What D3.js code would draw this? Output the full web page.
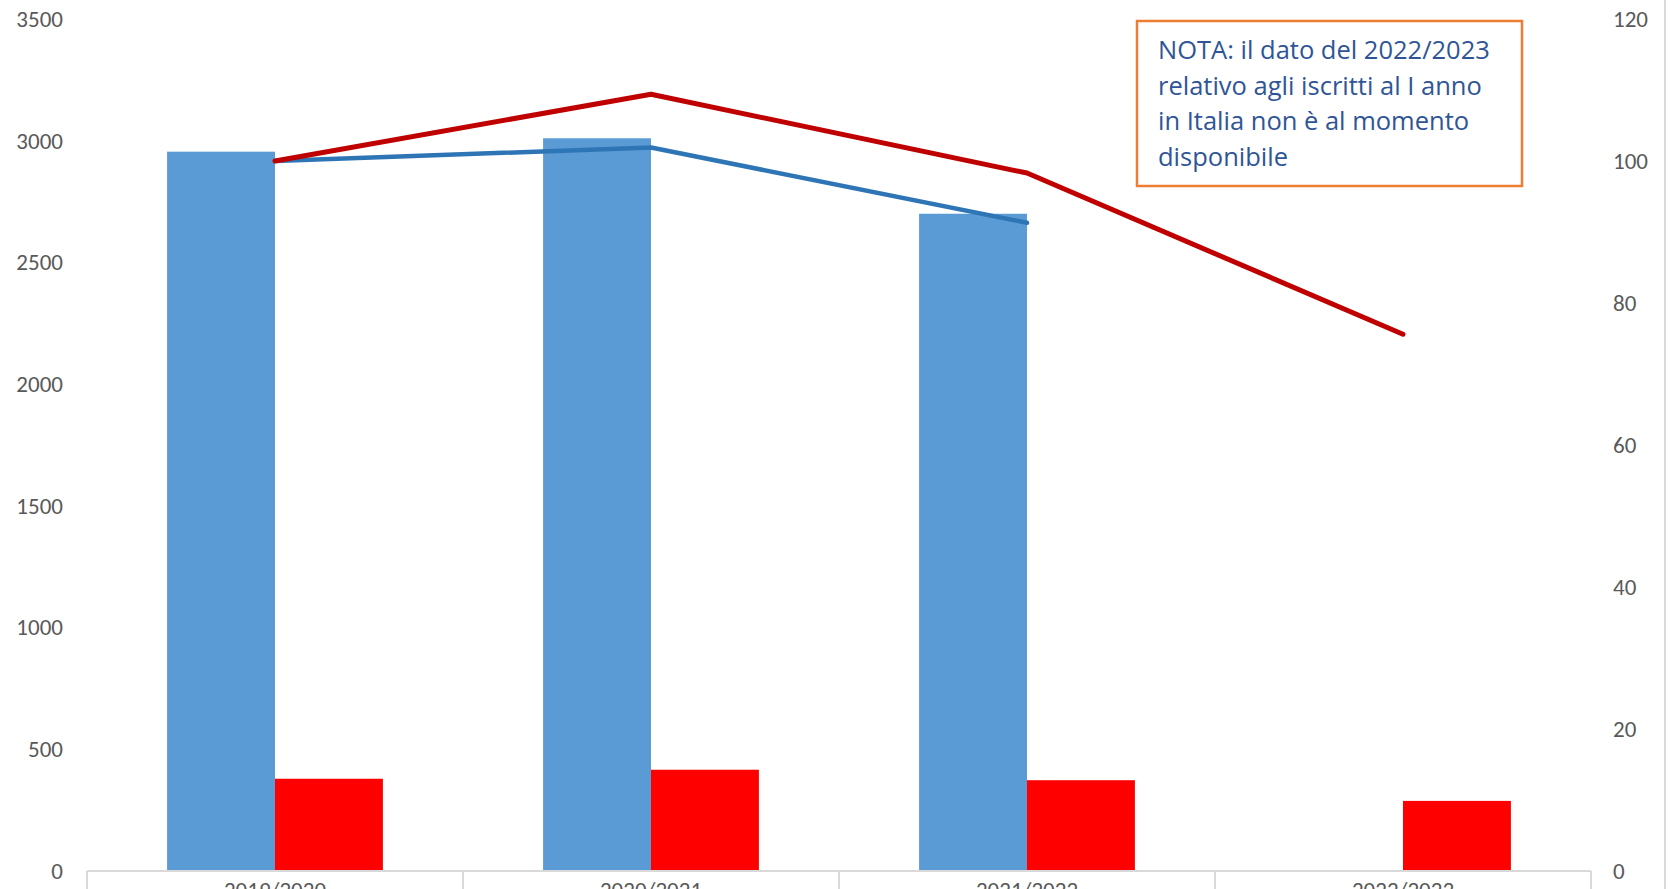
<!DOCTYPE html>
<html>
<head>
<meta charset="utf-8">
<style>
  body { margin: 0; background: #fff; }
  svg { display: block; }
</style>
</head>
<body>
<svg width="1670" height="889"></svg>
<script src="https://d3js.org/d3.v7.min.js"></script>
<script>

// data
var years = ["2019/2020", "2020/2021", "2021/2022", "2022/2023"];
var blueBars = [2955, 3010, 2700, null];      // left axis
var redBars = [379, 416, 373, 288];            // left axis
var blueIndex = [100, 101.9, 91.3, null];      // right axis
var redIndex = [100, 109.4, 98.3, 75.6];       // right axis
var leftTicks = [0, 500, 1000, 1500, 2000, 2500, 3000, 3500];
var rightTicks = [0, 20, 40, 60, 80, 100, 120];
var note = ["NOTA: il dato del 2022/2023",
            "relativo agli iscritti al I anno",
            "in Italia non è al momento",
            "disponibile"];

var svg = d3.select("svg"),
    margin = {top: 19, right: 79, bottom: 18, left: 87},
    width = +svg.attr("width") - margin.left - margin.right,
    height = +svg.attr("height") - margin.top - margin.bottom,
    g = svg.append("g").attr("transform", "translate(" + margin.left + "," + margin.top + ")");

var font = "Calibri, Carlito, Lato, sans-serif";

var x = d3.scaleBand()
    .domain(years)
    .range([0, width]);

var bw = x.bandwidth(),
    gap = bw * 0.213;

var x1 = d3.scaleBand()
    .domain(["blue", "red"])
    .range([gap, bw - gap]);

var y = d3.scaleLinear()
    .domain([0, 3500])
    .range([height, 0]);

var y2 = d3.scaleLinear()
    .domain([0, 120])
    .range([height, 0]);

// left axis
var ax = g.append("g")
    .call(d3.axisLeft(y).tickValues(leftTicks).tickFormat(d3.format("d")).tickSize(0).tickPadding(24));
ax.select(".domain").remove();
ax.selectAll("text")
    .attr("fill", "#595959")
    .attr("font-family", font)
    .attr("font-size", 23);

// right axis
var ax2 = g.append("g")
    .attr("transform", "translate(" + width + ",0)")
    .call(d3.axisRight(y2).tickValues(rightTicks).tickFormat(d3.format("d")).tickSize(0).tickPadding(22));
ax2.select(".domain").remove();
ax2.selectAll("text")
    .attr("fill", "#595959")
    .attr("font-family", font)
    .attr("font-size", 23);

// bars
g.append("g")
  .selectAll("rect")
  .data(blueBars.map(function(v, i) { return {year: years[i], v: v}; }).filter(function(d) { return d.v != null; }))
  .enter().append("rect")
    .attr("x", function(d) { return x(d.year) + x1("blue"); })
    .attr("y", function(d) { return y(d.v); })
    .attr("width", x1.bandwidth())
    .attr("height", function(d) { return height - y(d.v); })
    .attr("fill", "#5B9BD5");

g.append("g")
  .selectAll("rect")
  .data(redBars.map(function(v, i) { return {year: years[i], v: v}; }))
  .enter().append("rect")
    .attr("x", function(d) { return x(d.year) + x1("red"); })
    .attr("y", function(d) { return y(d.v); })
    .attr("width", x1.bandwidth())
    .attr("height", function(d) { return height - y(d.v); })
    .attr("fill", "#FF0000");

// x axis: baseline with category separators
var xa = g.append("g").attr("transform", "translate(0," + height + ")");
xa.append("line")
    .attr("x1", 0).attr("x2", width)
    .attr("stroke", "#D9D9D9").attr("stroke-width", 2);
xa.selectAll(".sep")
  .data(years.concat(["end"]))
  .enter().append("line")
    .attr("class", "sep")
    .attr("x1", function(d, i) { return i * bw; })
    .attr("x2", function(d, i) { return i * bw; })
    .attr("y1", 0).attr("y2", 40)
    .attr("stroke", "#D9D9D9").attr("stroke-width", 2);
// labels sit partly below the frame, as in the source image
xa.selectAll(".lab")
  .data(years)
  .enter().append("text")
    .attr("class", "lab")
    .attr("x", function(d) { return x(d) + bw / 2; })
    .attr("y", 27)
    .attr("text-anchor", "middle")
    .attr("fill", "#595959")
    .attr("font-family", font)
    .attr("font-size", 23)
    .text(function(d) { return d; });

// index lines
var line = d3.line()
    .defined(function(d) { return d.v != null; })
    .x(function(d) { return x(d.year) + bw / 2; })
    .y(function(d) { return y2(d.v); });

g.append("path")
    .datum(blueIndex.map(function(v, i) { return {year: years[i], v: v}; }))
    .attr("fill", "none")
    .attr("stroke", "#2E75B6")
    .attr("stroke-width", 4.5)
    .attr("stroke-linecap", "round")
    .attr("stroke-linejoin", "round")
    .attr("d", line);

g.append("path")
    .datum(redIndex.map(function(v, i) { return {year: years[i], v: v}; }))
    .attr("fill", "none")
    .attr("stroke", "#C00000")
    .attr("stroke-width", 5)
    .attr("stroke-linecap", "round")
    .attr("stroke-linejoin", "round")
    .attr("d", line);

// note box
var nb = svg.append("g").attr("transform", "translate(1137,21)");
nb.append("rect")
    .attr("width", 385)
    .attr("height", 165)
    .attr("fill", "#fff")
    .attr("stroke", "#ED7D31")
    .attr("stroke-width", 2.5);
nb.selectAll("text")
  .data(note)
  .enter().append("text")
    .attr("x", 21)
    .attr("y", function(d, i) { return 38 + i * 35.5; })
    .attr("fill", "#2F5597")
    .attr("font-family", "'Open Sans', sans-serif")
    .attr("font-size", 25.5)
    .text(function(d) { return d; });

// chart border on the right
svg.append("line")
    .attr("x1", 1665).attr("x2", 1665)
    .attr("y1", 0).attr("y2", 889)
    .attr("stroke", "#D9D9D9").attr("stroke-width", 2);

</script>
</body>
</html>
